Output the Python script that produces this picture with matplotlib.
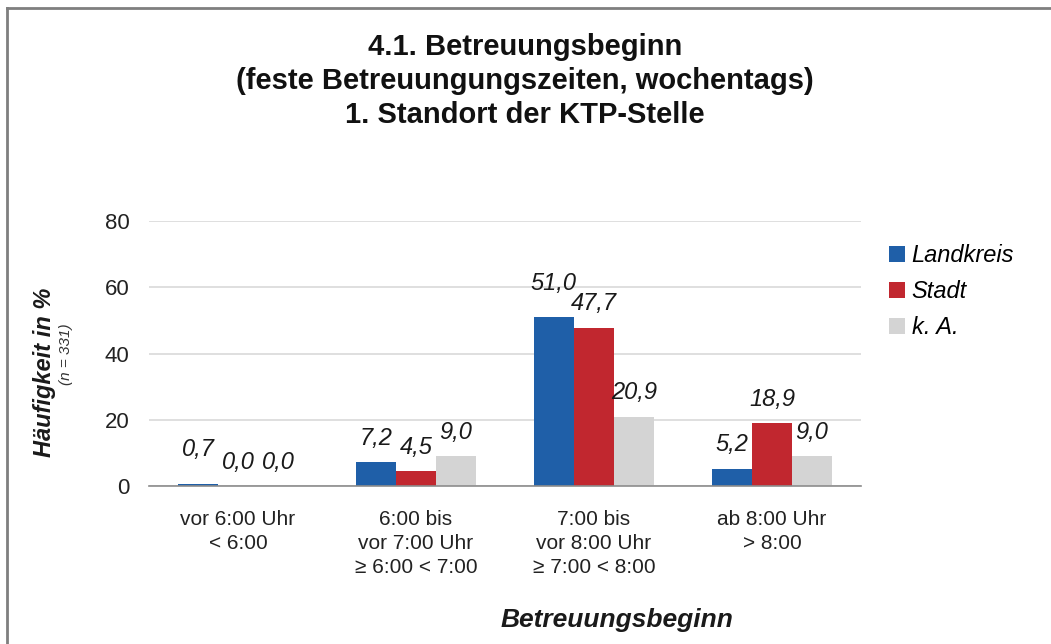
import numpy as np
import matplotlib.pyplot as plt
from matplotlib.lines import Line2D

plt.rcParams['font.family'] = ['Liberation Sans', 'DejaVu Sans']

categories = ['vor 6:00 Uhr\n< 6:00', '6:00 bis\nvor 7:00 Uhr\n≥ 6:00 < 7:00',
              '7:00 bis\nvor 8:00 Uhr\n≥ 7:00 < 8:00', 'ab 8:00 Uhr\n> 8:00']
series = ['Landkreis', 'Stadt', 'k. A.']
landkreis = [0.7, 7.2, 51.0, 5.2]
stadt = [0.0, 4.5, 47.7, 18.9]
ka = [0.0, 9.0, 20.9, 9.0]
colors = ['#1F5FA8', '#C1272F', '#D4D4D4']
# labels that were lifted in the original to avoid overlapping
lifted = {(0, 0), (0, 2)}

fig = plt.figure(figsize=(10.51, 6.44), dpi=100)
ax = fig.add_axes([149 / 1051, 1 - 486 / 644, 712 / 1051, 265 / 644])

x = np.arange(len(categories))
w = 0.225
for i, (vals, name) in enumerate(zip([landkreis, stadt, ka], series)):
    pos = x + (i - 1) * w
    ax.bar(pos, vals, w, color=colors[i], label=name, zorder=3)
    for j, (px, v) in enumerate(zip(pos, vals)):
        dy = 16 if (i, j) in lifted else 9
        ax.annotate(f'{v:.1f}'.replace('.', ','), (px, v), xytext=(0, dy),
                    textcoords='offset points', ha='center', va='bottom',
                    fontsize=17, style='italic', color='#1a1a1a')

ax.set_xlim(-0.5, 3.5)
ax.set_ylim(0, 80)
ax.set_yticks([0, 20, 40, 60, 80])
ax.yaxis.grid(True, color='#D9D9D9', lw=1.2, zorder=0)
ax.set_axisbelow(True)
for s in ['left', 'right', 'top']:
    ax.spines[s].set_visible(False)
ax.spines['bottom'].set_color('#8C8C8C')
ax.spines['bottom'].set_linewidth(1.2)
ax.spines['bottom'].set_zorder(4)
ax.tick_params(axis='y', length=0, pad=14, labelsize=16, labelcolor='#222222')
ax.set_xticks(x)
ax.set_xticklabels(categories, fontsize=15, color='#222222', linespacing=1.35)
ax.tick_params(axis='x', length=0, pad=17)

fig.text(45 / 1051, 1 - 372 / 644, 'Häufigkeit in %', rotation=90, fontsize=17,
         weight='bold', style='italic', ha='center', va='center', color='#1a1a1a')
fig.text(66 / 1051, 1 - 354 / 644, '(n = 331)', rotation=90, fontsize=11,
         style='italic', ha='center', va='center', color='#333333')
fig.text(617 / 1051, 1 - 620 / 644, 'Betreuungsbeginn', fontsize=19,
         weight='bold', style='italic', ha='center', va='center', color='#1a1a1a')

fig.text(525 / 1051, 1 - 81 / 644,
         '4.1. Betreuungsbeginn\n(feste Betreuungungszeiten, wochentags)\n1. Standort der KTP-Stelle',
         fontsize=21, weight='bold', ha='center', va='center', linespacing=1.28, color='#111111')

ax.legend(loc='upper left', bbox_to_anchor=(868 / 1051, 1 - 223 / 644),
          bbox_transform=fig.transFigure, frameon=False, prop={'size': 17, 'style': 'italic'},
          handlelength=0.65, handleheight=0.65, handletextpad=0.3, labelspacing=0.55)

fig.add_artist(Line2D([7 / 1051, 7 / 1051], [0, 1 - 8 / 644], color='#7F7F7F', lw=2,
                      transform=fig.transFigure))
fig.add_artist(Line2D([7 / 1051, 1], [1 - 8 / 644, 1 - 8 / 644], color='#7F7F7F', lw=2,
                      transform=fig.transFigure))

fig.savefig('out.png', dpi=100)
